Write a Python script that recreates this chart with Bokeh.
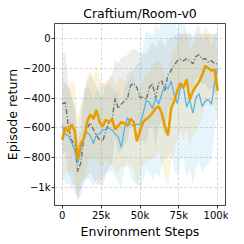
from bokeh.plotting import figure
from bokeh.models import FixedTicker, Range1d
from bokeh.embed import file_html
from bokeh.resources import INLINE

steps = [i * 2000 for i in range(51)]

baseline_mean = [-438, -430, -600, -680, -720, -895, -830, -650, -605, -565,
                 -610, -650, -680, -690, -620, -565, -545, -400, -470, -440,
                 -420, -400, -315, -300, -330, -395, -395, -410, -330, -300,
                 -400, -300, -285, -350, -245, -215, -180, -150, -140, -150,
                 -135, -150, -170, -120, -110, -140, -135, -160, -150, -170, -170]
baseline_hw = [340, 330, 300, 290, 260, 190, 220, 300, 320, 330,
               330, 330, 300, 300, 300, 300, 300, 260, 300, 310,
               300, 290, 240, 230, 250, 300, 290, 300, 270, 280,
               340, 290, 270, 300, 240, 220, 200, 180, 170, 180,
               170, 180, 190, 150, 150, 170, 170, 190, 180, 200, 200]

orange_mean = [-680, -595, -625, -575, -620, -810, -700, -670, -560, -510,
               -540, -480, -560, -590, -545, -560, -540, -610, -585, -560,
               -570, -585, -540, -560, -690, -620, -560, -540, -525, -500,
               -470, -455, -500, -590, -650, -470, -420, -350, -300, -330,
               -275, -410, -355, -320, -290, -245, -185, -200, -215, -210, -350]
orange_hw = [300, 310, 290, 300, 320, 280, 260, 270, 300, 290,
             280, 300, 290, 270, 260, 280, 300, 290, 310, 300,
             290, 280, 300, 320, 310, 290, 280, 300, 290, 310,
             320, 300, 330, 340, 350, 360, 340, 320, 330, 350,
             340, 320, 300, 310, 290, 280, 260, 250, 240, 230, 250]

blue_mean = [-584, -640, -655, -700, -752, -835, -740, -660, -630, -650,
             -705, -645, -640, -615, -610, -600, -615, -640, -660, -730,
             -600, -530, -580, -585, -575, -580, -505, -415, -430, -470,
             -400, -440, -375, -315, -340, -285, -380, -435, -330, -330,
             -460, -410, -500, -400, -370, -455, -420, -410, -440, -300, -195]
blue_hw = [330, 340, 320, 300, 290, 230, 270, 300, 310, 300,
           290, 300, 310, 320, 300, 290, 280, 290, 300, 280,
           270, 300, 350, 380, 400, 420, 450, 460, 470, 480,
           500, 490, 480, 470, 460, 480, 500, 490, 470, 480,
           470, 460, 480, 470, 460, 450, 440, 430, 380, 330, 260]

x_ticks = [0, 25000, 50000, 75000, 100000]
x_tick_labels = ["0", "25k", "50k", "75k", "100k"]
y_ticks = [0, -200, -400, -600, -800, -1000]
y_tick_labels = ["0", "\u2212200", "\u2212400", "\u2212600", "\u2212800", "\u22121k"]

FONT = "DejaVu Sans"

p = figure(frame_width=171, frame_height=182, output_backend="svg", toolbar_location=None,
           x_range=Range1d(-5000, 105000), y_range=Range1d(-1120, 100),
           min_border_left=54, min_border_right=3, min_border_top=0, min_border_bottom=0,
           title="Craftium/Room-v0")
p.title.align = "center"
p.title.text_font = FONT
p.title.text_font_size = "12.5px"
p.title.text_font_style = "normal"
p.title.text_color = "#000000"
p.title.standoff = 6
p.title.offset = 0

def band(mean, hw):
    lo = [m - h for m, h in zip(mean, hw)]
    hi = [m + h for m, h in zip(mean, hw)]
    return lo, hi

lo, hi = band(baseline_mean, baseline_hw)
p.varea(x=steps, y1=lo, y2=hi, fill_color="#9a9a9a", fill_alpha=0.18)
lo, hi = band(blue_mean, blue_hw)
p.varea(x=steps, y1=lo, y2=hi, fill_color="#56B4E9", fill_alpha=0.15)
lo, hi = band(orange_mean, orange_hw)
p.varea(x=steps, y1=lo, y2=hi, fill_color="#E69F00", fill_alpha=0.13)

p.line(steps, baseline_mean, line_color="#707070", line_width=1.4, line_dash="5 2 1 2")
p.line(steps, blue_mean, line_color="#56B4E9", line_width=1.3)
p.line(steps, orange_mean, line_color="#E69F00", line_width=2.6)

p.xaxis.ticker = FixedTicker(ticks=x_ticks)
p.xaxis.major_label_overrides = dict(zip(x_ticks, x_tick_labels))
p.yaxis.ticker = FixedTicker(ticks=y_ticks)
p.yaxis.major_label_overrides = dict(zip(y_ticks, y_tick_labels))
p.xaxis.axis_label = "Environment Steps"
p.yaxis.axis_label = "Episode return"
for ax in (p.xaxis, p.yaxis):
    ax.axis_label_text_font = FONT
    ax.axis_label_text_font_size = "12.5px"
    ax.axis_label_text_font_style = "normal"
    ax.axis_label_text_color = "#000000"
    ax.major_label_text_font = FONT
    ax.major_label_text_font_size = "10px"
    ax.major_label_text_color = "#000000"
    ax.major_tick_out = 3
    ax.major_tick_in = 0
    ax.minor_tick_line_color = None
    ax.axis_line_color = None
    ax.major_tick_line_color = "#333333"
    ax.major_label_standoff = 1
    ax.axis_label_standoff = 0

p.outline_line_color = "#444444"
p.outline_line_width = 1
p.xgrid.grid_line_color = "#b0b0b0"
p.ygrid.grid_line_color = "#b0b0b0"
p.xgrid.grid_line_alpha = 0.5
p.ygrid.grid_line_alpha = 0.5
p.xgrid.grid_line_dash = "3 2"
p.ygrid.grid_line_dash = "3 2"
p.background_fill_color = "#ffffff"
p.border_fill_color = "#ffffff"

open("out.html", "w").write(file_html(p, INLINE))
